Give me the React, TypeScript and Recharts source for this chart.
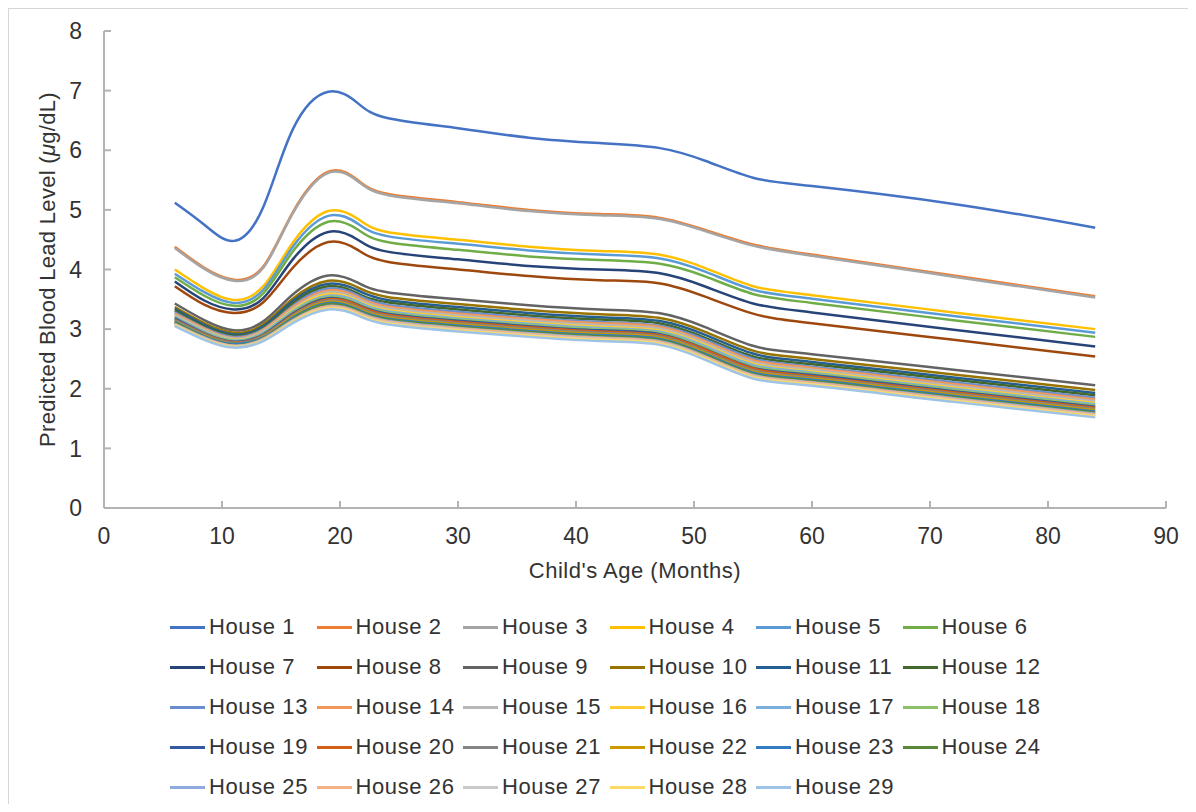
import React from "react";
import { LineChart, Line, XAxis, YAxis } from "recharts";

// child age in months at which the predicted curves are sampled
const AGES = [6, 8.5, 11, 13.5, 16, 19, 21.5, 24, 30, 36, 42, 47, 51, 55, 60, 72, 84];

const HOUSE_1 = [5.12, 4.75, 4.48, 5.05, 6.35, 6.98, 6.79, 6.54, 6.37, 6.21, 6.12, 6.04, 5.82, 5.54, 5.4, 5.1, 4.7];
const HOUSE_2 = [4.38, 4.03, 3.83, 4.05, 4.96, 5.64, 5.5, 5.27, 5.13, 5.0, 4.93, 4.87, 4.66, 4.42, 4.25, 3.9, 3.55];
const HOUSE_3 = [4.36, 4.01, 3.81, 4.03, 4.94, 5.62, 5.48, 5.25, 5.11, 4.98, 4.91, 4.85, 4.64, 4.4, 4.23, 3.88, 3.53];
const HOUSE_4 = [4.0, 3.68, 3.49, 3.72, 4.45, 4.98, 4.85, 4.63, 4.5, 4.38, 4.31, 4.25, 4.02, 3.72, 3.57, 3.28, 3.0];
const HOUSE_5 = [3.93, 3.62, 3.44, 3.66, 4.38, 4.9, 4.77, 4.56, 4.43, 4.32, 4.25, 4.19, 3.96, 3.66, 3.51, 3.22, 2.94];
const HOUSE_6 = [3.87, 3.56, 3.39, 3.6, 4.3, 4.8, 4.67, 4.46, 4.33, 4.22, 4.16, 4.1, 3.88, 3.59, 3.44, 3.15, 2.87];
const HOUSE_7 = [3.8, 3.48, 3.33, 3.52, 4.17, 4.63, 4.5, 4.3, 4.17, 4.06, 4.0, 3.94, 3.71, 3.43, 3.28, 2.99, 2.71];
const HOUSE_8 = [3.72, 3.41, 3.27, 3.45, 4.03, 4.46, 4.33, 4.13, 4.0, 3.89, 3.82, 3.77, 3.54, 3.26, 3.1, 2.82, 2.54];
const HOUSE_9 = [3.43, 3.15, 2.98, 3.13, 3.58, 3.9, 3.78, 3.62, 3.5, 3.4, 3.33, 3.27, 3.03, 2.72, 2.58, 2.32, 2.06];
const HOUSE_10 = [3.37, 3.1, 2.94, 3.08, 3.51, 3.81, 3.7, 3.54, 3.42, 3.32, 3.25, 3.19, 2.95, 2.64, 2.5, 2.24, 1.98];
const HOUSE_11 = [3.34, 3.07, 2.91, 3.05, 3.47, 3.76, 3.65, 3.49, 3.37, 3.27, 3.2, 3.14, 2.9, 2.59, 2.45, 2.19, 1.93];
const HOUSE_12 = [3.31, 3.04, 2.89, 3.02, 3.43, 3.72, 3.6, 3.45, 3.33, 3.23, 3.16, 3.1, 2.85, 2.54, 2.41, 2.15, 1.89];
const HOUSE_13 = [3.28, 3.02, 2.87, 3.0, 3.39, 3.68, 3.57, 3.41, 3.29, 3.19, 3.12, 3.06, 2.82, 2.51, 2.37, 2.11, 1.85];
const HOUSE_14 = [3.26, 3.01, 2.85, 2.99, 3.37, 3.65, 3.54, 3.38, 3.26, 3.17, 3.1, 3.04, 2.79, 2.48, 2.35, 2.08, 1.82];
const HOUSE_15 = [3.24, 2.99, 2.84, 2.97, 3.34, 3.62, 3.51, 3.35, 3.23, 3.14, 3.07, 3.01, 2.76, 2.45, 2.32, 2.05, 1.79];
const HOUSE_16 = [3.22, 2.97, 2.82, 2.95, 3.32, 3.59, 3.48, 3.32, 3.2, 3.11, 3.04, 2.98, 2.73, 2.42, 2.29, 2.02, 1.76];
const HOUSE_17 = [3.21, 2.96, 2.81, 2.94, 3.3, 3.56, 3.46, 3.3, 3.18, 3.09, 3.02, 2.96, 2.71, 2.4, 2.27, 2.0, 1.74];
const HOUSE_18 = [3.19, 2.94, 2.8, 2.92, 3.28, 3.54, 3.43, 3.28, 3.16, 3.07, 3.0, 2.94, 2.68, 2.37, 2.25, 1.98, 1.72];
const HOUSE_19 = [3.18, 2.93, 2.79, 2.91, 3.26, 3.52, 3.41, 3.26, 3.14, 3.05, 2.98, 2.92, 2.66, 2.35, 2.23, 1.96, 1.7];
const HOUSE_20 = [3.16, 2.92, 2.78, 2.9, 3.24, 3.5, 3.4, 3.24, 3.12, 3.03, 2.96, 2.9, 2.65, 2.34, 2.21, 1.94, 1.68];
const HOUSE_21 = [3.15, 2.91, 2.77, 2.89, 3.23, 3.48, 3.37, 3.22, 3.1, 3.01, 2.94, 2.88, 2.62, 2.31, 2.19, 1.92, 1.66];
const HOUSE_22 = [3.13, 2.89, 2.75, 2.87, 3.21, 3.46, 3.35, 3.2, 3.08, 2.99, 2.92, 2.86, 2.6, 2.29, 2.17, 1.9, 1.64];
const HOUSE_23 = [3.12, 2.88, 2.75, 2.86, 3.19, 3.44, 3.33, 3.18, 3.06, 2.97, 2.9, 2.84, 2.58, 2.27, 2.15, 1.88, 1.62];
const HOUSE_24 = [3.11, 2.87, 2.73, 2.85, 3.17, 3.42, 3.31, 3.16, 3.04, 2.95, 2.88, 2.82, 2.56, 2.25, 2.13, 1.86, 1.6];
const HOUSE_25 = [3.09, 2.86, 2.72, 2.84, 3.15, 3.39, 3.29, 3.14, 3.02, 2.93, 2.86, 2.8, 2.54, 2.23, 2.11, 1.84, 1.58];
const HOUSE_26 = [3.08, 2.85, 2.72, 2.83, 3.14, 3.38, 3.28, 3.13, 3.01, 2.92, 2.85, 2.79, 2.53, 2.22, 2.1, 1.83, 1.57];
const HOUSE_27 = [3.07, 2.84, 2.71, 2.82, 3.13, 3.36, 3.26, 3.11, 2.99, 2.9, 2.83, 2.77, 2.51, 2.2, 2.08, 1.81, 1.55];
const HOUSE_28 = [3.07, 2.83, 2.7, 2.81, 3.12, 3.35, 3.25, 3.1, 2.98, 2.89, 2.82, 2.76, 2.5, 2.19, 2.07, 1.8, 1.54];
const HOUSE_29 = [3.05, 2.82, 2.69, 2.8, 3.1, 3.33, 3.23, 3.08, 2.96, 2.87, 2.8, 2.74, 2.48, 2.17, 2.05, 1.78, 1.52];

const HOUSES = [
  HOUSE_1, HOUSE_2, HOUSE_3, HOUSE_4, HOUSE_5, HOUSE_6, HOUSE_7, HOUSE_8, HOUSE_9, HOUSE_10,
  HOUSE_11, HOUSE_12, HOUSE_13, HOUSE_14, HOUSE_15, HOUSE_16, HOUSE_17, HOUSE_18, HOUSE_19, HOUSE_20,
  HOUSE_21, HOUSE_22, HOUSE_23, HOUSE_24, HOUSE_25, HOUSE_26, HOUSE_27, HOUSE_28, HOUSE_29,
];

const COLORS = [
  "#4472C4", "#ED7D31", "#A5A5A5", "#FFC000", "#5B9BD5", "#70AD47", "#264478", "#9E480E", "#636363", "#997300",
  "#255E91", "#43682B", "#698ED0", "#F1975A", "#B7B7B7", "#FFCD33", "#7CAFDD", "#8CC168", "#335AA1", "#D26012",
  "#848484", "#CC9A00", "#327DC2", "#5A8A39", "#8FAADC", "#F4B183", "#C9C9C9", "#FFD966", "#9DC3E6",
];

const X_TICKS = [0, 10, 20, 30, 40, 50, 60, 70, 80, 90];
const Y_TICKS = [0, 1, 2, 3, 4, 5, 6, 7, 8];

const data = AGES.map((age, i) => {
  const row: Record<string, number> = { age };
  HOUSES.forEach((h, k) => {
    row[`h${k + 1}`] = h[i];
  });
  return row;
});

const FONT = '"Liberation Sans", Arial, Helvetica, sans-serif';
const TEXT = "#333333";
const AXIS = "#b3b3b3";

function YTitle(props: any) {
  const vb = props.viewBox;
  const cy = vb.y + vb.height / 2;
  return (
    <text
      x={38}
      y={cy}
      transform={`rotate(-90 38 ${cy})`}
      textAnchor="middle"
      dominantBaseline="central"
      fill={TEXT}
      fontSize={22}
      fontFamily={FONT}
      letterSpacing={0.3}
    >
      Predicted Blood Lead Level (<tspan fontStyle="italic">μ</tspan>g/dL)
    </text>
  );
}

function XTitle(props: any) {
  const vb = props.viewBox;
  return (
    <text
      x={vb.x + vb.width / 2}
      y={vb.y + 70}
      textAnchor="middle"
      fill={TEXT}
      fontSize={22}
      fontFamily={FONT}
      letterSpacing={0.5}
    >
      Child's Age (Months)
    </text>
  );
}

function HouseLegend() {
  return (
    <div style={{ display: "grid", gridTemplateColumns: "repeat(6, 146.5px)", fontFamily: FONT }}>
      {HOUSES.map((_, k) => (
        <div key={k} style={{ display: "flex", alignItems: "center", height: 40 }}>
          <span style={{ display: "inline-block", width: 35, height: 3, background: COLORS[k], marginRight: 4 }} />
          <span style={{ fontSize: 22, color: TEXT, letterSpacing: 0.6, whiteSpace: "nowrap" }}>House {k + 1}</span>
        </div>
      ))}
    </div>
  );
}

export default function App() {
  return (
    <div style={{ width: 1184, height: 795, border: "1px solid #d6d6d6", borderBottom: "none", background: "#fff" }}>
      <LineChart width={1184} height={795} data={data} margin={{ top: 22, right: 27, left: 0, bottom: 216 }}>
        <XAxis
          dataKey="age"
          type="number"
          domain={[0, 90]}
          ticks={X_TICKS}
          height={80}
          stroke={AXIS}
          strokeWidth={2}
          tickSize={-7}
          tickMargin={27}
          tick={{ fill: TEXT, fontSize: 23, fontFamily: FONT }}
          label={<XTitle />}
        />
        <YAxis
          type="number"
          domain={[0, 8]}
          ticks={Y_TICKS}
          width={95}
          stroke={AXIS}
          strokeWidth={2}
          tickSize={-7}
          tickMargin={29}
          tick={{ fill: TEXT, fontSize: 23, fontFamily: FONT }}
          label={<YTitle />}
        />
        {HOUSES.map((_, k) => (
          <Line
            key={k}
            type="natural"
            dataKey={`h${k + 1}`}
            name={`House ${k + 1}`}
            stroke={COLORS[k]}
            strokeWidth={2.5}
            dot={false}
            activeDot={false}
            isAnimationActive={false}
          />
        ))}
      </LineChart>
      <div style={{ position: "absolute", left: 170, top: 607 }}>
        <HouseLegend />
      </div>
    </div>
  );
}
